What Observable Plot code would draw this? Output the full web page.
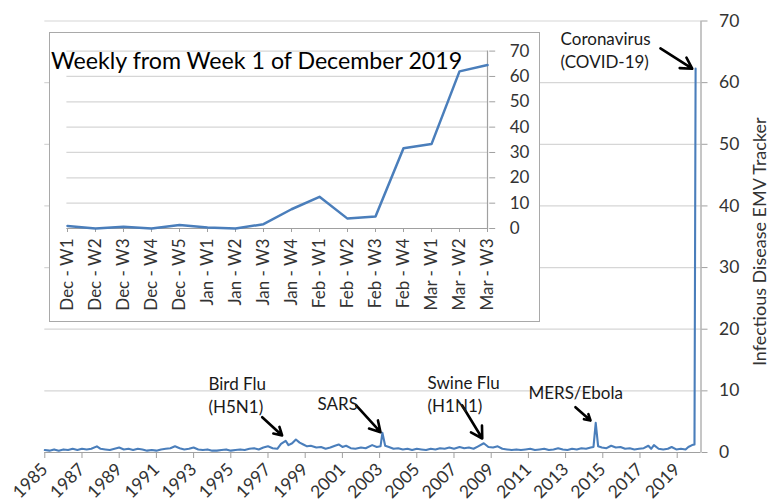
<!DOCTYPE html>
<html><head><meta charset="utf-8">
<script src="https://cdn.jsdelivr.net/npm/d3@7"></script>
<script src="https://cdn.jsdelivr.net/npm/@observablehq/plot@0.6"></script>
<style>
body{margin:0;background:#fff;}
#wrap{position:relative;width:771px;height:503px;overflow:hidden;font-family:Lato,sans-serif;}
#main{position:absolute;left:0;top:0;}
#inset{position:absolute;left:49px;top:31.5px;width:491px;height:290px;background:#fff;}
#inset svg{outline:1.5px solid #a9a9a9;outline-offset:-1px;}
</style></head><body><div id="wrap"><div id="main"></div><div id="inset"></div></div>
<script>
// ---- Main series (approximate readings, decimal year) ----
const years = [
1985.00,1985.25,1985.50,1985.75,1986.00,1986.25,1986.50,1986.75,1987.00,1987.25,1987.50,1987.80,
1988.00,1988.25,1988.50,1988.75,1989.00,1989.25,1989.50,1989.75,1990.00,1990.25,1990.50,1990.75,
1991.00,1991.25,1991.50,1991.75,1992.00,1992.25,1992.50,1992.75,1993.00,1993.25,1993.50,1993.75,
1994.00,1994.25,1994.50,1994.75,1995.00,1995.25,1995.50,1995.75,1996.00,1996.25,1996.50,1996.75,
1997.00,1997.25,1997.50,1997.70,1997.95,1998.10,1998.30,1998.50,1998.70,1998.90,1999.10,1999.30,
1999.60,1999.85,2000.10,2000.35,2000.60,2000.80,2001.00,2001.20,2001.45,2001.70,2002.00,2002.25,
2002.60,2002.85,2003.05,2003.15,2003.30,2003.50,2003.75,2004.00,2004.25,2004.50,2004.75,2005.00,
2005.25,2005.50,2005.75,2006.00,2006.25,2006.50,2006.75,2007.00,2007.30,2007.55,2007.80,2008.05,
2008.30,2008.60,2008.85,2009.10,2009.35,2009.60,2009.85,2010.10,2010.35,2010.60,2010.85,2011.10,
2011.35,2011.60,2011.85,2012.10,2012.35,2012.60,2012.85,2013.10,2013.35,2013.60,2013.85,2014.10,
2014.35,2014.50,2014.62,2014.75,2014.95,2015.20,2015.45,2015.70,2015.95,2016.20,2016.45,2016.70,
2016.95,2017.20,2017.45,2017.60,2017.75,2018.00,2018.25,2018.50,2018.70,2018.95,2019.20,2019.45,
2019.60,2019.80,2019.93,2019.99
];
const values = [
0.4,0.3,0.5,0.3,0.5,0.4,0.6,0.4,0.6,0.5,0.6,1.0,
0.6,0.5,0.4,0.6,0.8,0.5,0.6,0.4,0.6,0.5,0.3,0.4,
0.3,0.5,0.6,0.7,1.0,0.7,0.5,0.6,0.8,0.5,0.4,0.5,
0.3,0.3,0.4,0.5,0.3,0.4,0.5,0.4,0.6,0.7,0.5,0.8,
1.0,0.7,0.6,1.4,1.9,1.2,1.5,2.1,1.6,1.3,1.0,1.1,
0.8,0.9,0.6,0.8,1.1,1.3,0.9,1.1,0.7,0.6,0.8,0.7,
1.2,0.9,1.0,3.2,1.1,0.9,0.6,0.7,0.5,0.6,0.4,0.6,
0.5,0.4,0.6,0.5,0.7,0.6,0.8,0.6,0.9,0.7,0.8,0.6,
1.0,1.5,0.9,0.8,1.0,0.6,0.5,0.4,0.5,0.4,0.5,0.6,
0.4,0.5,0.6,0.4,0.5,0.7,0.5,0.4,0.6,0.5,0.7,0.6,
0.8,0.9,4.8,1.0,0.8,0.7,1.1,0.8,0.9,0.6,0.7,0.5,
0.6,0.7,1.1,0.6,1.2,0.6,0.5,0.6,0.9,0.5,0.6,0.5,
0.9,1.2,1.3,62.3
];
const yearTicks = [1985,1987,1989,1991,1993,1995,1997,1999,2001,2003,2005,2007,2009,2011,2013,2015,2017,2019];
const mainYTicks = [0,10,20,30,40,50,60,70];
const xEnd = 2020.28;
const yTitle = "Infectious Disease EMV Tracker";

// ---- Annotations ----
const annoLabels = ["Bird Flu\n(H5N1)","SARS","Swine Flu\n(H1N1)","MERS/Ebola","Coronavirus\n(COVID-19)"];
const annoX = [1993.80,1999.66,2005.58,2011.00,2012.73];
const annoY = [12.82,9.57,12.98,11.36,68.8];
const arrowX1 = [1996.69,2001.74,2007.44,2013.53,2018.10];
const arrowY1 = [5.73,7.63,7.63,7.35,65.55];
const arrowX2 = [1997.76,2003.05,2008.52,2014.34,2019.81];
const arrowY2 = [2.76,3.29,2.27,5.19,62.26];

// ---- Inset (weekly) ----
const weekLabels = ["Dec - W1","Dec - W2","Dec - W3","Dec - W4","Dec - W5","Jan - W1","Jan - W2","Jan - W3","Jan - W4","Feb - W1","Feb - W2","Feb - W3","Feb - W4","Mar - W1","Mar - W2","Mar - W3"];
const weekValues = [1.0,0.0,0.7,0.0,1.4,0.4,0.0,1.7,7.6,12.5,3.9,4.7,31.7,33.3,62.0,64.5];
const insetYTicks = [0,10,20,30,40,50,60,70];
const insetTitle = "Weekly from Week 1 of December 2019";

const blue = "#4a7ebb";
const gridC = "#d6d6d6";
const axisC = "#a0a0a0";
const textC = "#333333";
const font = "Lato, sans-serif";

const main = Plot.plot({
  width: 771, height: 503,
  marginLeft: 44.3, marginRight: 70.5, marginTop: 20.5, marginBottom: 51,
  x: {domain: [1985, xEnd]},
  y: {domain: [0, 70]},
  style: {fontFamily: font, fontSize: "17px", color: textC, background: "transparent", overflow: "visible"},
  marks: [
    Plot.gridY(mainYTicks, {stroke: gridC, strokeOpacity: 1, strokeWidth: 1.2}),
    Plot.ruleY([0], {stroke: axisC, strokeWidth: 1.2}),
    Plot.ruleX([xEnd], {stroke: axisC, strokeWidth: 1.2}),
    Plot.axisX(yearTicks, {tickRotate: -45, tickSize: 6, tickPadding: 8, tickFormat: d => String(d), stroke: axisC, fill: textC, fontSize: 17.5, label: null}),
    Plot.axisY(mainYTicks, {anchor: "right", tickSize: 6, tickPadding: 12, stroke: axisC, fill: textC, fontSize: 17.5, label: null}),
    Plot.text([yTitle], {frameAnchor: "right", rotate: -90, dx: 59, dy: 5, fontSize: 18, fill: textC, textAnchor: "middle"}),
    Plot.line(values, {x: years, y: values, stroke: blue, strokeWidth: 2.1, curve: "linear"}),
    Plot.arrow(annoLabels, {x1: arrowX1, y1: arrowY1, x2: arrowX2, y2: arrowY2, stroke: "#000", strokeWidth: 2.6, headLength: 11}),
    Plot.text(annoLabels, {x: annoX, y: annoY, text: d => d, textAnchor: "start", lineAnchor: "top", lineHeight: 1.35, fontSize: 17, fill: "#1a1a1a"})
  ]
});
document.getElementById("main").appendChild(main);

const inset = Plot.plot({
  width: 491, height: 290,
  marginLeft: 17.4, marginRight: 51.8, marginTop: 18.6, marginBottom: 94,
  x: {type: "point", domain: weekLabels, padding: 0},
  y: {domain: [0, 70]},
  style: {fontFamily: font, fontSize: "17px", color: textC, background: "#fff", overflow: "visible"},
  marks: [
    Plot.gridY(insetYTicks, {stroke: gridC, strokeOpacity: 1, strokeWidth: 1.2}),
    Plot.ruleY([0], {stroke: axisC, strokeWidth: 1.2}),
    Plot.ruleX([weekLabels[weekLabels.length - 1]], {stroke: axisC, strokeWidth: 1.2}),
    Plot.axisX({tickRotate: -90, tickSize: 4, tickPadding: 6, stroke: axisC, fill: textC, fontSize: 17, label: null}),
    Plot.axisY(insetYTicks, {anchor: "right", tickSize: 6, tickPadding: 15, stroke: axisC, fill: textC, fontSize: 17, label: null}),
    Plot.line(weekValues, {x: weekLabels, y: weekValues, stroke: blue, strokeWidth: 2.5}),
    Plot.text([insetTitle], {frameAnchor: "top-left", dx: -16, dy: 18, lineAnchor: "bottom", textAnchor: "start", fontSize: 23.2, fill: "#000"})
  ]
});
document.getElementById("inset").appendChild(inset);
</script></body></html>
